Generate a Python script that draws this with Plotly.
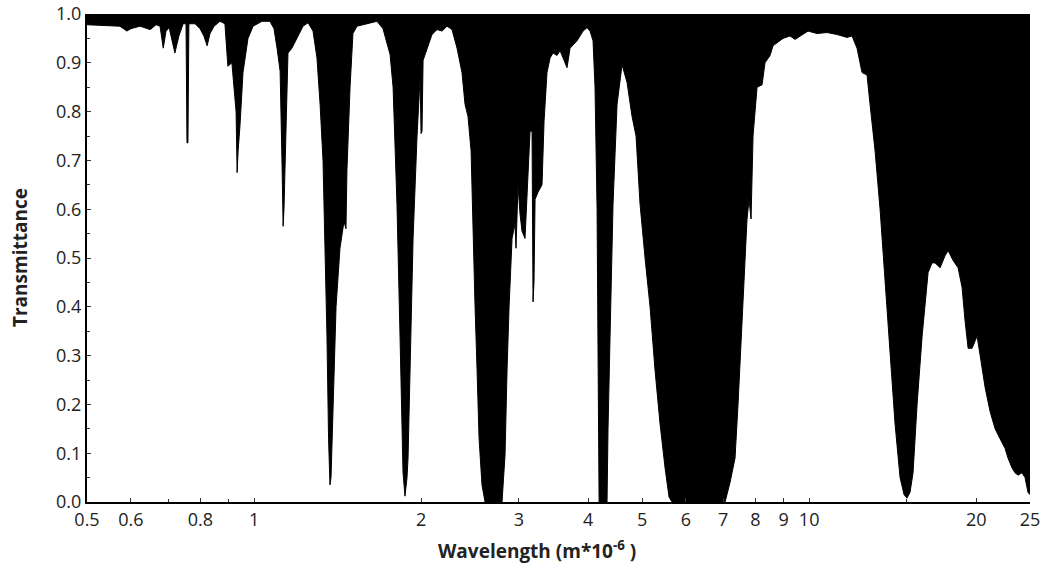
import plotly.graph_objects as go

# Atmospheric transmittance spectrum, grouped by spectral region (wavelength in micrometres)
wl_near = [0.500, 0.573, 0.590, 0.600, 0.623, 0.650, 0.666, 0.677, 0.686, 0.694,
           0.703, 0.720, 0.732, 0.745, 0.754, 0.757, 0.760, 0.763, 0.783, 0.799,
           0.812, 0.823, 0.833, 0.847, 0.868, 0.886, 0.897, 0.912, 0.928, 0.932,
           0.936, 0.943, 0.955, 0.975, 0.996]
tr_near = [0.978, 0.975, 0.965, 0.970, 0.975, 0.968, 0.978, 0.975, 0.930, 0.965,
           0.972, 0.920, 0.955, 0.980, 0.980, 0.736, 0.736, 0.980, 0.980, 0.970,
           0.955, 0.935, 0.960, 0.975, 0.985, 0.980, 0.893, 0.900, 0.800, 0.675,
           0.720, 0.770, 0.880, 0.950, 0.975]

wl_swir = [1.033, 1.068, 1.086, 1.100, 1.114, 1.123, 1.128, 1.132, 1.142, 1.151,
           1.170, 1.195, 1.225, 1.251, 1.277, 1.298, 1.315, 1.331, 1.342, 1.353,
           1.362, 1.370, 1.376, 1.387, 1.405, 1.428, 1.452, 1.464, 1.470, 1.489,
           1.507, 1.533, 1.598, 1.665, 1.707, 1.758, 1.780, 1.809, 1.832, 1.855,
           1.870, 1.886, 1.894, 1.918, 1.934, 1.966, 1.982, 1.991, 1.999, 2.007,
           2.016, 2.049, 2.092, 2.136, 2.181, 2.227, 2.273, 2.321, 2.369, 2.399,
           2.429, 2.460, 2.480]
tr_swir = [0.985, 0.985, 0.970, 0.930, 0.883, 0.690, 0.565, 0.600, 0.780, 0.920,
           0.930, 0.950, 0.975, 0.982, 0.965, 0.910, 0.815, 0.700, 0.540, 0.340,
           0.130, 0.035, 0.050, 0.200, 0.400, 0.520, 0.575, 0.560, 0.680, 0.850,
           0.960, 0.975, 0.980, 0.985, 0.970, 0.917, 0.850, 0.610, 0.340, 0.060,
           0.012, 0.050, 0.090, 0.340, 0.540, 0.750, 0.830, 0.870, 0.755, 0.760,
           0.905, 0.930, 0.958, 0.968, 0.965, 0.975, 0.968, 0.930, 0.880, 0.815,
           0.790, 0.720, 0.540]

wl_mwir = [2.501, 2.522, 2.543, 2.574, 2.607, 2.797, 2.832, 2.856, 2.880, 2.916,
           2.952, 2.964, 2.977, 2.989, 3.014, 3.039, 3.077, 3.103, 3.142, 3.168,
           3.181, 3.194, 3.208, 3.248, 3.302, 3.330, 3.371, 3.414, 3.456, 3.514,
           3.558, 3.618, 3.663, 3.709, 3.818, 3.915, 3.980, 4.030, 4.080, 4.114,
           4.149, 4.166, 4.184, 4.324, 4.342, 4.379, 4.433, 4.508, 4.602, 4.698,
           4.797, 4.877, 4.959, 5.063, 5.169, 5.277, 5.388, 5.501, 5.593, 5.663,
           7.055, 7.203, 7.354, 7.446, 7.540, 7.634, 7.729, 7.794, 7.859, 7.924]
tr_mwir = [0.400, 0.270, 0.130, 0.035, 0.000, 0.000, 0.096, 0.270, 0.400, 0.540,
           0.570, 0.520, 0.610, 0.650, 0.590, 0.555, 0.540, 0.620, 0.760, 0.760,
           0.410, 0.450, 0.620, 0.635, 0.650, 0.780, 0.880, 0.910, 0.920, 0.915,
           0.925, 0.905, 0.890, 0.930, 0.945, 0.965, 0.972, 0.965, 0.945, 0.850,
           0.600, 0.300, 0.000, 0.000, 0.150, 0.340, 0.610, 0.815, 0.896, 0.860,
           0.790, 0.750, 0.610, 0.500, 0.400, 0.270, 0.160, 0.070, 0.010, 0.000,
           0.000, 0.040, 0.090, 0.200, 0.330, 0.460, 0.580, 0.620, 0.580, 0.750]

wl_lwir = [8.057, 8.226, 8.328, 8.503, 8.610, 8.974, 9.238, 9.432, 9.630, 9.954,
           10.333, 10.771, 11.227, 11.703, 11.948, 12.199, 12.454, 12.715, 12.875, 13.146,
           13.422, 13.703, 13.990, 14.283, 14.583, 14.827, 15.01, 15.20, 15.39, 15.65,
           15.98, 16.18, 16.38, 16.65, 16.86, 17.22, 17.58, 17.80, 18.17, 18.55,
           18.86, 19.10, 19.34, 19.66, 20.07, 20.33, 20.75, 21.19, 21.63, 22.07,
           22.54, 22.82, 23.20, 23.49, 23.79, 24.18, 24.49, 24.79, 25.0]
tr_lwir = [0.850, 0.855, 0.900, 0.915, 0.935, 0.950, 0.955, 0.948, 0.955, 0.965,
           0.960, 0.962, 0.958, 0.952, 0.955, 0.930, 0.880, 0.875, 0.815, 0.720,
           0.600, 0.450, 0.300, 0.160, 0.050, 0.015, 0.008, 0.020, 0.060, 0.200,
           0.340, 0.400, 0.470, 0.490, 0.490, 0.480, 0.505, 0.515, 0.495, 0.480,
           0.440, 0.370, 0.315, 0.315, 0.340, 0.300, 0.235, 0.185, 0.150, 0.130,
           0.110, 0.090, 0.070, 0.060, 0.055, 0.060, 0.050, 0.020, 0.015]

x_tick_vals = [0.5, 0.6, 0.8, 1, 2, 3, 4, 5, 6, 7, 8, 9, 10, 20, 25]
x_tick_text = ["0.5", "0.6", "0.8", "1", "2", "3", "4", "5", "6", "7",
               "8", "9", "10", "20", "25"]
x_minor_vals = [0.7, 0.9, 15]
y_tick_vals = [0.0, 0.1, 0.2, 0.3, 0.4, 0.5, 0.6, 0.7, 0.8, 0.9, 1.0]

wavelength = wl_near + wl_swir + wl_mwir + wl_lwir
transmittance = tr_near + tr_swir + tr_mwir + tr_lwir
ceiling = [1.0] * len(wavelength)

fig = go.Figure()
# upper boundary at full transmittance; the absorbed part is filled black beneath it
fig.add_trace(go.Scatter(x=wavelength, y=ceiling, mode="lines",
                         line=dict(width=0, color="black"), hoverinfo="skip",
                         showlegend=False))
fig.add_trace(go.Scatter(x=wavelength, y=transmittance, mode="lines",
                         line=dict(width=1, color="black"),
                         fill="tonexty", fillcolor="black", showlegend=False))

font_family = "Open Sans, Arial, sans-serif"
fig.update_layout(
    width=1046, height=567,
    margin=dict(l=87, r=16, t=14, b=65),
    paper_bgcolor="white", plot_bgcolor="white",
    font=dict(family=font_family, color="#222", size=18),
    showlegend=False,
)
fig.update_xaxes(
    type="log", range=[-0.30103, 1.39794], automargin=False,
    tickmode="array", tickvals=x_tick_vals, ticktext=x_tick_text,
    ticks="inside", ticklen=4, tickwidth=1, tickcolor="#333",
    minor=dict(tickmode="array", tickvals=x_minor_vals, ticks="inside",
               ticklen=3, tickcolor="#333"),
    showline=True, linecolor="black", linewidth=2,
    showgrid=False, zeroline=False,
    tickfont=dict(size=18, color="#222"),
)
fig.update_yaxes(
    range=[0, 1.0], tickvals=y_tick_vals, tickformat=".1f", automargin=False,
    ticks="inside", ticklen=4, tickwidth=1, tickcolor="#333",
    minor=dict(dtick=0.05, ticks="inside", ticklen=3, tickcolor="#333"),
    showline=True, linecolor="black", linewidth=2,
    showgrid=False, zeroline=False,
    tickfont=dict(size=18, color="#222"),
)
fig.add_annotation(
    text="<b>Wavelength (m*10<sup>-6</sup> )</b>", xref="paper", yref="paper",
    x=(537 - 87) / 943, y=-0.066, xanchor="center", yanchor="top",
    showarrow=False, font=dict(size=19, color="#222", family=font_family),
)
fig.add_annotation(
    text="<b>Transmittance</b>", xref="paper", yref="paper",
    x=-0.071, y=0.5, xanchor="center", yanchor="middle", textangle=-90,
    showarrow=False, font=dict(size=19, color="#222", family=font_family),
)

fig.write_html("out.html")
